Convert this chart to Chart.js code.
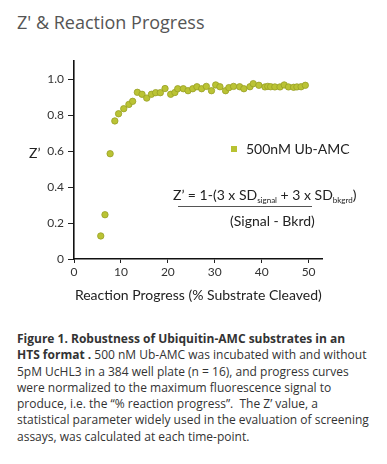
<!DOCTYPE html>
<html>
<head>
<meta charset="utf-8">
<script src="https://cdn.jsdelivr.net/npm/chart.js@4.4.1/dist/chart.umd.min.js"></script>
<style>
  html, body { margin: 0; padding: 0; background: #fff; }
  body { width: 387px; height: 464px; position: relative; overflow: hidden; }
  #wrap { position: absolute; left: 0; top: 0; width: 387px; height: 304px; }
  .abs { position: absolute; white-space: nowrap; }
  #title { left: 17px; top: 9px; font: 18px "Open Sans", sans-serif; color: #555; line-height: 26px; }
  #ylab { left: 29px; top: 144px; font: 14px Lato, sans-serif; color: #222; line-height: 18px; }
  #legend { left: 231px; top: 140px; font: 14px Lato, sans-serif; color: #222; line-height: 18px; }
  #legend span.sw { display: inline-block; width: 6px; height: 6px; background: #b8c232; margin-right: 9px; vertical-align: 2px; }
  #f1 { left: 173px; top: 186px; font: 14px Lato, sans-serif; color: #222; line-height: 18px; }
  #f1 sub { font-size: 8px; vertical-align: -3px; }
  #fline { left: 178px; top: 206px; width: 134px; height: 1px; background: #555; }
  #f2 { left: 230px; top: 212px; font: 14px Lato, sans-serif; color: #222; line-height: 18px; }
  #caption { left: 17px; top: 331px; font: 12px "Open Sans", sans-serif; color: #333; line-height: 16.3px; }
  #caption b { font-weight: bold; }
</style>
</head>
<body>
<div id="title" class="abs">Z' &amp; Reaction Progress</div>
<div id="wrap"><canvas id="c"></canvas></div>
<div id="ylab" class="abs">Z’</div>
<div id="legend" class="abs"><span class="sw"></span>500nM Ub-AMC</div>
<div id="f1" class="abs">Z’ = 1-(3 x SD<sub>signal</sub> + 3 x SD<sub>bkgrd</sub>)</div>
<div id="fline" class="abs"></div>
<div id="f2" class="abs">(Signal - Bkrd)</div>
<div id="caption" class="abs"><b>Figure 1. Robustness of Ubiquitin-AMC substrates in an<br>HTS format .</b> 500 nM Ub-AMC was incubated with and without<br>5pM UcHL3 in a 384 well plate (n = 16), and progress curves<br>were normalized to the maximum fluorescence signal to<br>produce, i.e. the “% reaction progress”.&nbsp; The Z’ value, a<br>statistical parameter widely used in the evaluation of screening<br>assays, was calculated at each time-point.</div>
<script>
const seriesName = "500nM Ub-AMC";
const reactionProgress = [5.7, 6.6, 7.7, 8.7, 9.5, 10.6, 11.7, 12.5, 13.5, 14.5, 15.5, 16.5, 17.4, 18.4, 19.4, 20.6, 21.5, 22.1, 23.3, 24.3, 25.3, 26.2, 27.2, 28.2, 29.3, 30.2, 31.1, 32.3, 33.0, 34.0, 35.3, 36.2, 37.5, 38.2, 39.4, 40.7, 41.3, 41.9, 42.8, 43.9, 44.8, 45.7, 46.8, 47.5, 48.4, 49.3];
const zPrime = [0.128, 0.246, 0.585, 0.767, 0.807, 0.835, 0.859, 0.876, 0.926, 0.915, 0.894, 0.915, 0.924, 0.924, 0.947, 0.915, 0.925, 0.946, 0.946, 0.935, 0.946, 0.957, 0.946, 0.959, 0.935, 0.967, 0.957, 0.935, 0.952, 0.959, 0.957, 0.946, 0.957, 0.974, 0.965, 0.956, 0.959, 0.957, 0.956, 0.956, 0.967, 0.956, 0.954, 0.956, 0.957, 0.965];
const xTicks = [0, 10, 20, 30, 40, 50];
const yTicks = [0, 0.2, 0.4, 0.6, 0.8, 1.0];
const yTickLabels = ["0", "0.2", "0.4", "0.6", "0.8", "1.0"];
const xTitle = "Reaction Progress (% Substrate Cleaved)";

const points = reactionProgress.map((x, i) => ({ x: x, y: zPrime[i] }));
const tickFont = { family: "Lato", size: 12 };

new Chart(document.getElementById("c"), {
  type: "scatter",
  data: {
    datasets: [{
      label: seriesName,
      data: points,
      pointRadius: 3.2,
      pointHoverRadius: 3.2,
      pointBackgroundColor: "#bac334",
      pointBorderColor: "#98a026",
      pointBorderWidth: 0.8
    }]
  },
  options: {
    responsive: true,
    maintainAspectRatio: false,
    animation: false,
    events: [],
    layout: { padding: { left: 0, right: 64.3, top: 61, bottom: 0 } },
    plugins: { legend: { display: false }, tooltip: { enabled: false } },
    scales: {
      x: {
        type: "linear",
        min: 0, max: 53,
        afterBuildTicks: s => { s.ticks = xTicks.map(v => ({ value: v })); },
        afterFit: s => { s.height = 45; },
        ticks: { font: tickFont, color: "#333", padding: 2, maxRotation: 0, includeBounds: false },
        grid: { display: true, drawOnChartArea: false, drawTicks: true, tickLength: 4, color: "#222", lineWidth: 1 },
        border: { display: true, color: "#111", width: 1.6 },
        title: { display: true, text: xTitle, font: { family: "Lato", size: 14 }, color: "#222", padding: 0 }
      },
      y: {
        type: "linear",
        min: 0, max: 1.1,
        afterBuildTicks: s => { s.ticks = yTicks.map(v => ({ value: v })); },
        afterFit: s => { s.width = 74; },
        ticks: { font: tickFont, color: "#333", padding: 4, includeBounds: false,
          callback: (v) => { const i = yTicks.findIndex(t => Math.abs(t - v) < 1e-9); return i >= 0 ? yTickLabels[i] : ""; } },
        grid: { display: true, drawOnChartArea: false, drawTicks: true, tickLength: 6, color: "#222", lineWidth: 1 },
        border: { display: true, color: "#111", width: 1.6 }
      }
    }
  }
});
</script>
</body>
</html>
